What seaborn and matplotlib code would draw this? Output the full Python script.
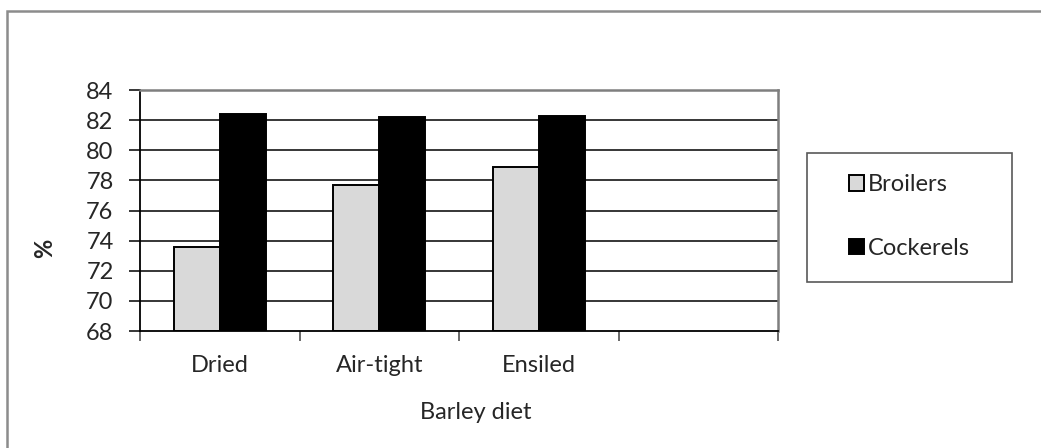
import numpy as np
import pandas as pd
import matplotlib
matplotlib.use("Agg")
import matplotlib.pyplot as plt
import matplotlib.patches as mpatches
import seaborn as sns

# data
diets = ["Dried", "Air-tight", "Ensiled"]
broilers = [73.6, 77.7, 78.9]
cockerels = [82.4, 82.2, 82.3]
groups = ["Broilers", "Cockerels"]
colors = ["#D9D9D9", "#000000"]
yticks = [68, 70, 72, 74, 76, 78, 80, 82, 84]

df = pd.DataFrame({
    "diet": diets * 2,
    "value": broilers + cockerels,
    "group": [groups[0]] * len(diets) + [groups[1]] * len(diets),
})

sns.set_style("white")
plt.rcParams["font.family"] = ["Lato", "DejaVu Sans"]
fs = 17

W, H = 1041, 448
fig = plt.figure(figsize=(W / 100, H / 100), dpi=100)
# plot area in pixels: x 140..778, y 90..331
ax = fig.add_axes([140 / W, 1 - 331 / H, 638 / W, 241 / H])

sns.barplot(data=df, x="diet", y="value", hue="group", order=diets,
            hue_order=groups, palette=colors, width=0.575,
            edgecolor="black", linewidth=1.4, ax=ax, legend=False)

# bars start from the axis bottom (68) like Excel
for p in ax.patches:
    h = p.get_height()
    p.set_y(68)
    p.set_height(h - 68)

ax.set_xlim(-0.5, 3.5)
ax.set_ylim(68, 84)
ax.set_yticks(yticks)
ax.set_xticks(range(len(diets)))
ax.set_xticklabels(diets)
ax.set_xticks(np.arange(-0.5, 4.0, 1.0), minor=True)

for y in yticks[1:-1]:
    ax.axhline(y, color="black", lw=1.1, zorder=0)

ax.tick_params(axis="y", which="major", length=8, width=1.1, color="black",
               direction="out", left=True, pad=11, labelsize=fs)
ax.tick_params(axis="x", which="major", length=0, pad=17, labelsize=fs)
ax.tick_params(axis="x", which="minor", length=7, width=1.1, color="#404040",
               direction="out", bottom=True)

for side in ["left", "bottom"]:
    ax.spines[side].set_color("black")
    ax.spines[side].set_linewidth(1.3)
for side in ["top", "right"]:
    ax.spines[side].set_visible(True)
    ax.spines[side].set_color("#7F7F7F")
    ax.spines[side].set_linewidth(1.8)

ax.set_ylabel("%", fontsize=fs, fontweight="bold", rotation=90, va="center")
ax.yaxis.set_label_coords((45 - 140) / 638, (331 - 248) / 241)
ax.set_xlabel("Barley diet", fontsize=fs, va="center")
ax.xaxis.set_label_coords((476 - 140) / 638, (331 - 412) / 241)

# legend
handles = [mpatches.Patch(facecolor=c, edgecolor="black", linewidth=1.4, label=g)
           for c, g in zip(colors, groups)]
fig.legend(handles=handles, loc="center left",
           bbox_to_anchor=(837 / W, 1 - 216.5 / H), frameon=False,
           borderpad=0, labelspacing=1.8, handlelength=0.65, handleheight=0.65,
           handletextpad=0.15, fontsize=fs)
fig.patches.append(mpatches.Rectangle((807 / W, 1 - 282 / H), 205 / W, 129 / H,
                                      transform=fig.transFigure, fill=False,
                                      edgecolor="#595959", linewidth=1.2))

# outer chart border (runs off the right and bottom edges)
fig.patches.append(mpatches.Rectangle((7 / W, -0.1), 1.2, 1.1 - 11 / H,
                                      transform=fig.transFigure, fill=False,
                                      edgecolor="#8C8C8C", linewidth=1.8,
                                      clip_on=False))

fig.savefig("out.png", dpi=100)
